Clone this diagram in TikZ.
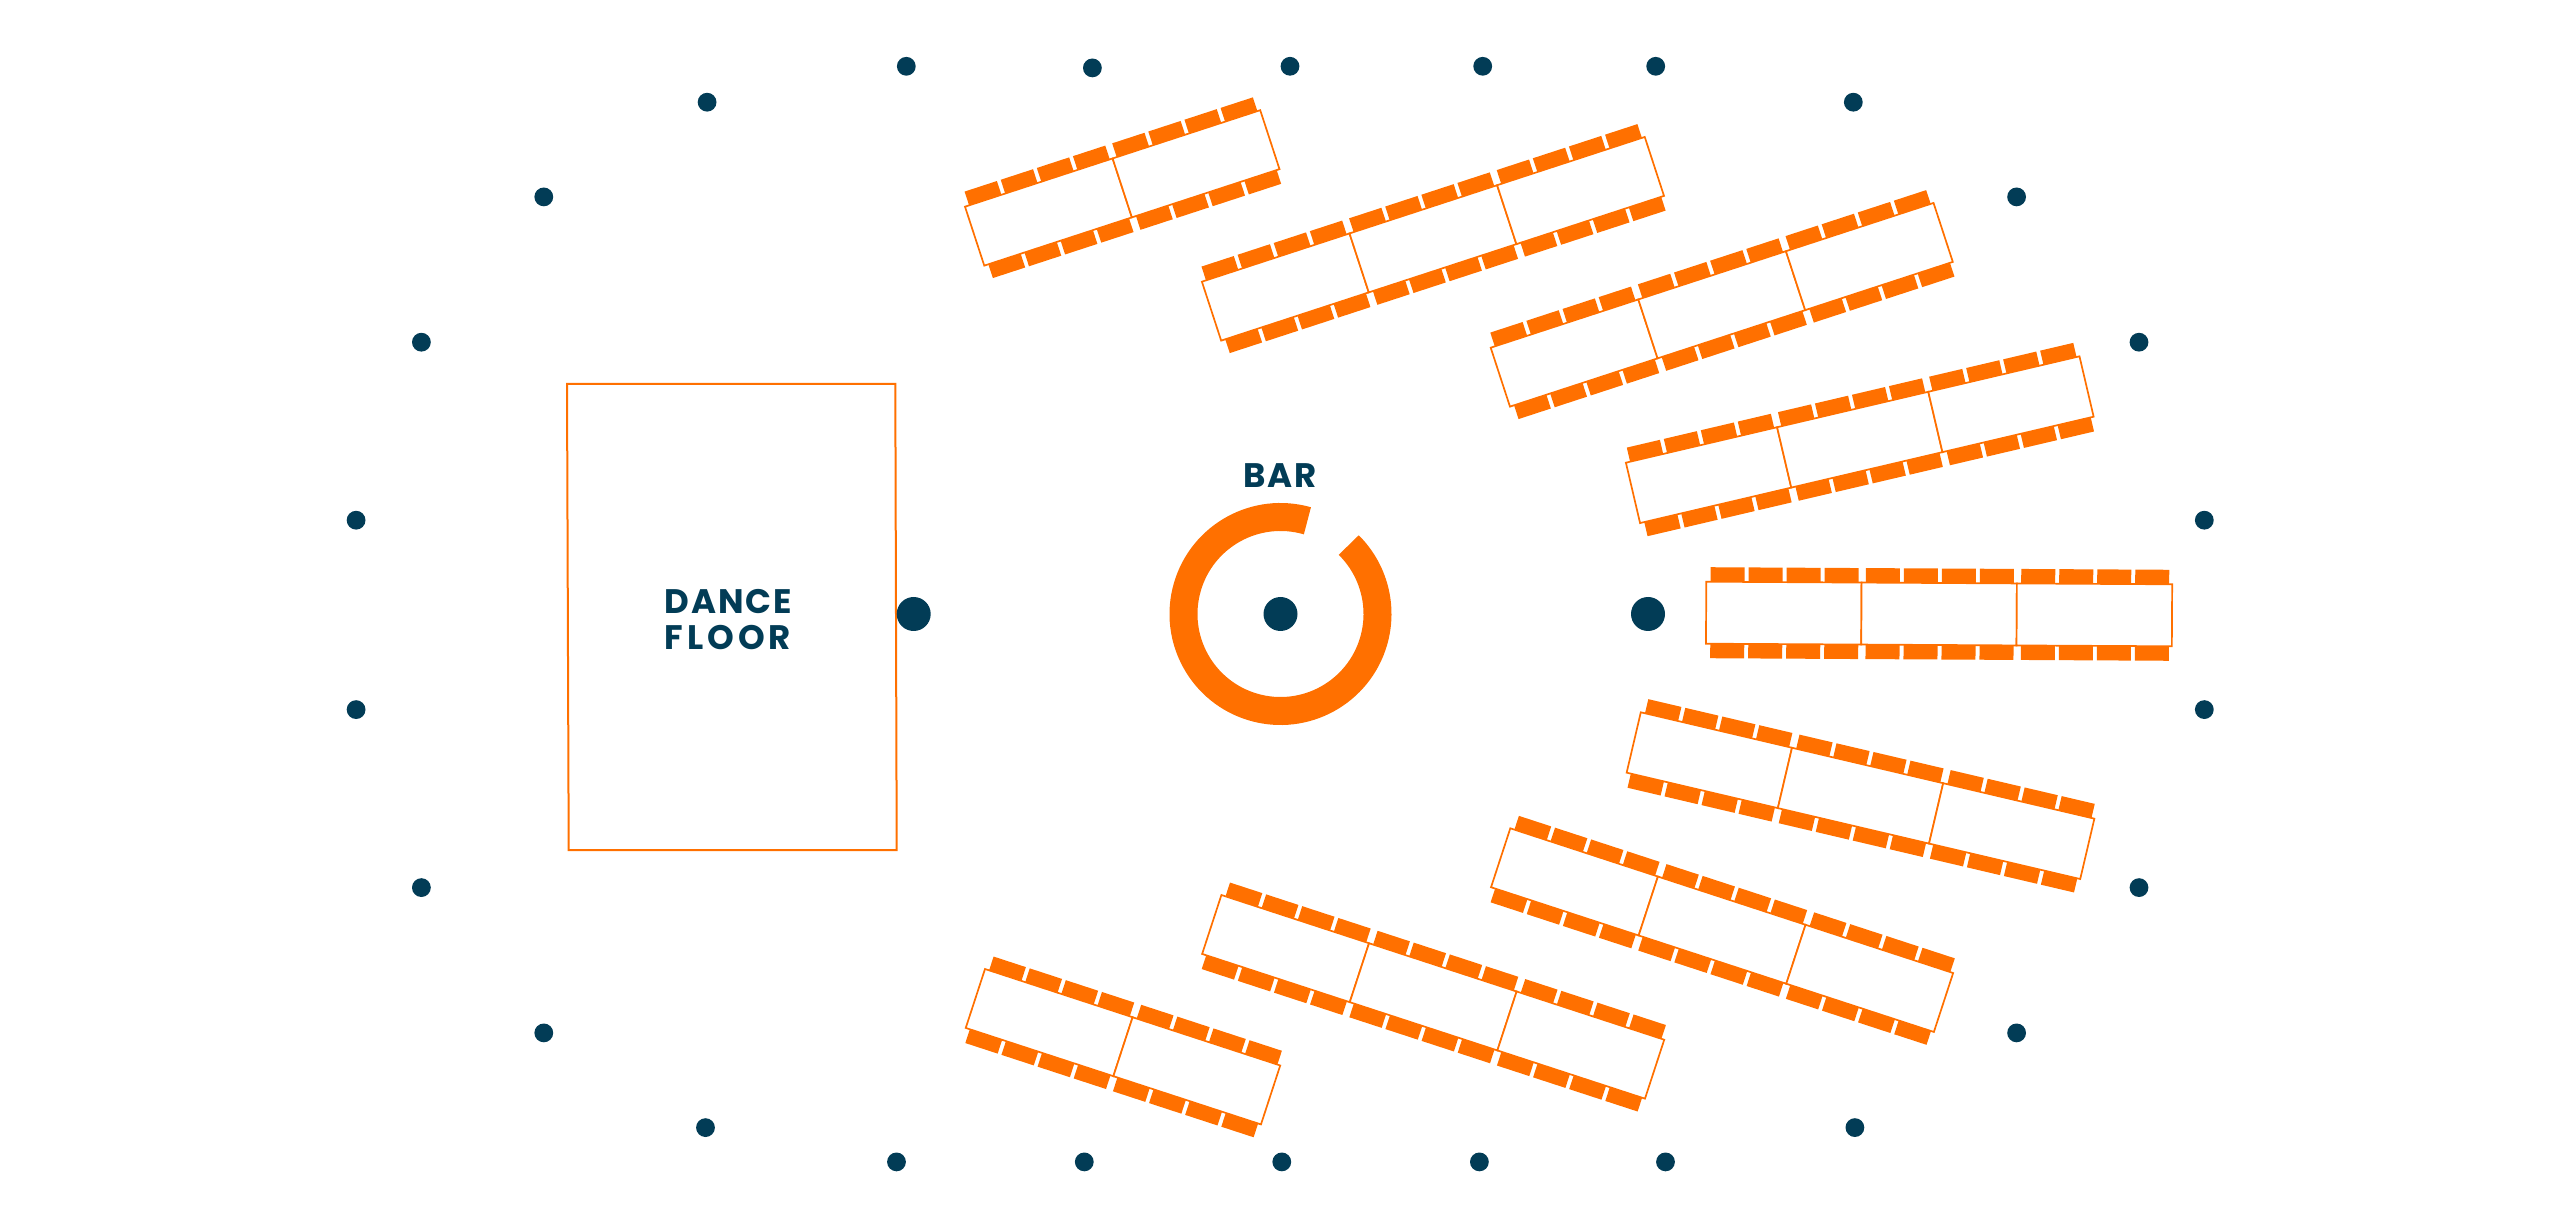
\documentclass[tikz,border=0pt]{standalone}
\usepackage{fontspec}
\newfontfamily\signfont{Poppins}[LetterSpace=6]
\definecolor{plan}{HTML}{FF7000}
\definecolor{navy}{HTML}{023C56}
\begin{document}
\begin{tikzpicture}[x=0.5pt,y=-0.5pt]
  \tikzstyle{lamp}=[circle,fill=navy,inner sep=0pt,minimum size=9.4pt]
  \tikzstyle{post}=[circle,fill=navy,inner sep=0pt,minimum size=17pt]
  \tikzstyle{sign}=[text=navy,inner sep=0pt,font=\signfont\bfseries\fontsize{17}{17.75}\selectfont]
  \tikzstyle{tabletop}=[draw=plan,fill=white,line width=0.85pt,line join=miter]
  \tikzstyle{seat}=[fill=plan]
  \useasboundingbox (0,0) rectangle (2560,1229);
  \foreach \x/\y [count=\i] in {906.3/66.3,1092.4/67.9,1290/66.3,1482.7/66.3,1655.7/66.3,1853.3/102.2,
      2016.6/196.9,2139/342.2,2204.3/520.2,2204.3/709.6,2139/887.6,2016.6/1032.9,1854.9/1127.6,
      1665.5/1161.9,1479.4/1161.9,1281.8/1161.9,1084.3/1161.9,896.5/1161.9,705.5/1127.6,543.8/1032.9,
      421.4/887.6,356.1/709.6,356.1/520.2,421.4/342.2,543.8/196.9,707.1/102.2}
    \node [lamp] (l\i) at (\x,\y) {};
  \draw [draw=plan,line width=1pt] (567,384) -- (895.3,384) -- (896.7,850) -- (568.7,850) -- cycle;
  \node [sign,align=left,anchor=north west] (dance) at (664,589) {DANCE\\\addfontfeature{LetterSpace=12}FLOOR};
  \node [post] (p1) at (913.7,614) {};
  \node [post] (p2) at (1280.5,614) {};
  \node [post] (p3) at (1648,614) {};
  \node [sign,anchor=base] (bar) at (1280,487.3) {BAR};
  \draw [plan,line width=14pt] (p2.center) ++(73.9:48.5pt) arc [start angle=73.9,end angle=405.3,radius=48.5pt];
  \foreach \x/\y/\a/\n in {965/206.7/18.1/2,1201.9/281.7/18.1/3,1490.7/347.7/18.1/3,
      1625.9/462.7/13.2/3,1706.3/581.7/-0.32/3,1640.8/712.3/-13.2/3,
      1510.3/828.3/-18.1/3,1221.4/895/-18.1/3,985/969/-18.1/2} {
    \begin{scope}[shift={(\x,\y)},rotate=\a]
      \foreach \k in {1,...,\n} {
        \foreach \s in {0,1,2,3} {
          \path [seat] ({(\k-1)*155.3+4.3+\s*38},-14.5) rectangle ++(34,14.5);
          \path [seat] ({(\k-1)*155.3+4.3+\s*38},62) rectangle ++(34,14.5);
        }
        \path [tabletop] ({(\k-1)*155.3},0) rectangle ++(155.3,62);
      }
    \end{scope}
  }
\end{tikzpicture}
\end{document}
